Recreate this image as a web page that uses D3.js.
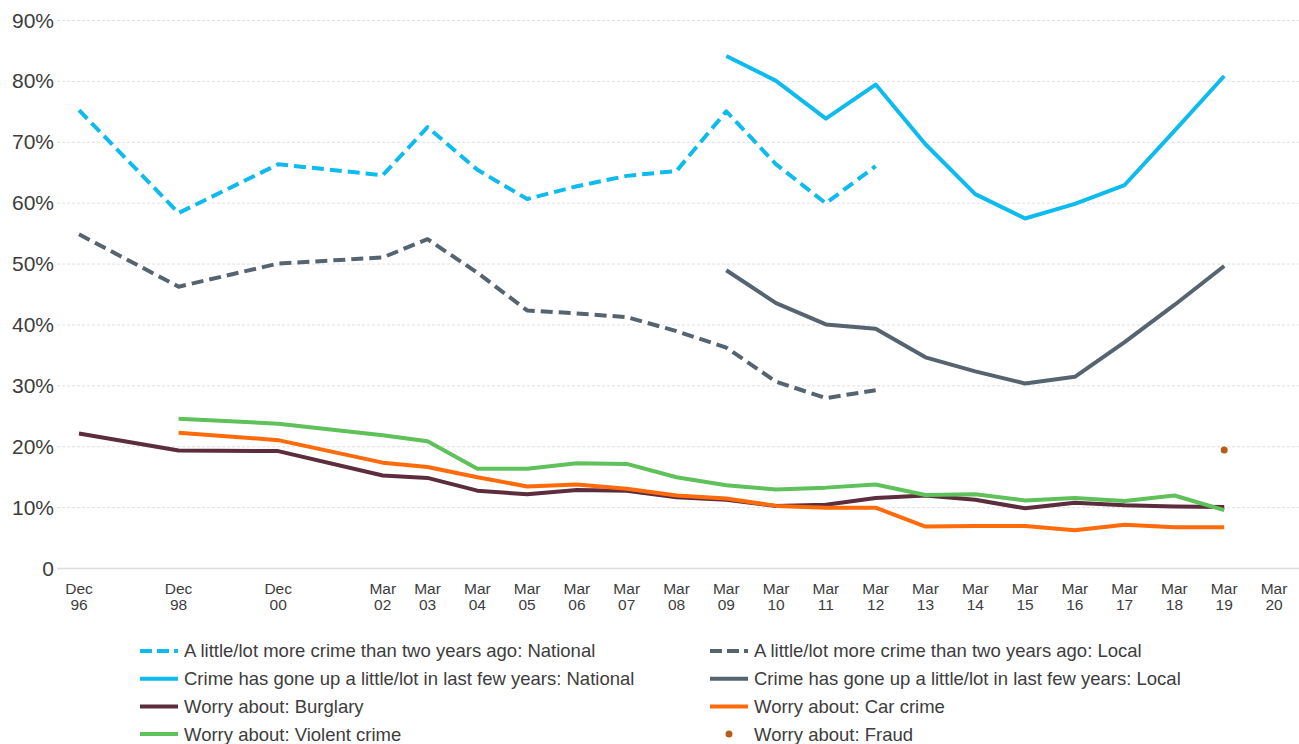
<!DOCTYPE html>
<html>
<head>
<meta charset="utf-8">
<script src="https://cdn.jsdelivr.net/npm/d3@7"></script>
<style>
  body { margin: 0; background: #fff; }
  text { font-family: "Liberation Sans", Arial, sans-serif; fill: #3d3d3d; }
</style>
</head>
<body>
<script>

var width = 1299;
var height = 744;

// survey periods (labels) and their position in time (years)
var periodLabels = ["Dec 96","Dec 98","Dec 00","Mar 02","Mar 03","Mar 04","Mar 05","Mar 06","Mar 07","Mar 08",
  "Mar 09","Mar 10","Mar 11","Mar 12","Mar 13","Mar 14","Mar 15","Mar 16","Mar 17","Mar 18","Mar 19","Mar 20"];
var periodYears = [1996, 1998, 2000, 2002.1, 2003, 2004, 2005, 2006, 2007, 2008,
  2009, 2010, 2011, 2012, 2013, 2014, 2015, 2016, 2017, 2018, 2019, 2020];

var yTicks = [0, 10, 20, 30, 40, 50, 60, 70, 80, 90];

var moreCrimeNational = [75.2, 58.3, 66.3, 64.5, 72.4, 65.4, 60.6, 62.7, 64.4, 65.2, 75.0, 66.3, 59.9, 66.0,
  null, null, null, null, null, null, null, null];
var moreCrimeLocal = [54.8, 46.2, 50.0, 51.0, 54.0, 48.5, 42.3, 41.8, 41.2, 38.9, 36.2, 30.6, 27.9, 29.2,
  null, null, null, null, null, null, null, null];
var goneUpNational = [null, null, null, null, null, null, null, null, null, null,
  84.1, 80.0, 73.8, 79.4, 69.6, 61.4, 57.4, 59.8, 62.9, 71.8, 80.8, null];
var goneUpLocal = [null, null, null, null, null, null, null, null, null, null,
  48.9, 43.5, 40.0, 39.3, 34.6, 32.3, 30.3, 31.4, 37.1, 43.2, 49.6, null];
var worryBurglary = [22.1, 19.3, 19.2, 15.2, 14.8, 12.7, 12.1, 12.8, 12.7, 11.6,
  11.2, 10.2, 10.4, 11.5, 11.9, 11.2, 9.8, 10.7, 10.3, 10.1, 10.0, null];
var worryCar = [null, 22.2, 21.0, 17.3, 16.6, 14.9, 13.4, 13.7, 13.0, 11.9,
  11.4, 10.2, 9.9, 9.9, 6.8, 6.9, 6.9, 6.2, 7.1, 6.7, 6.7, null];
var worryViolent = [null, 24.5, 23.7, 21.8, 20.8, 16.3, 16.3, 17.2, 17.1, 14.9,
  13.6, 12.9, 13.2, 13.7, 12.0, 12.1, 11.1, 11.5, 11.0, 11.9, 9.5, null];
var worryFraud = [null, null, null, null, null, null, null, null, null, null,
  null, null, null, null, null, null, null, null, null, null, 19.4, null];

var series = [
  {name: "A little/lot more crime than two years ago: National", values: moreCrimeNational, color: "#0dbbef", dash: "12,6"},
  {name: "A little/lot more crime than two years ago: Local", values: moreCrimeLocal, color: "#56646f", dash: "12,6"},
  {name: "Crime has gone up a little/lot in last few years: National", values: goneUpNational, color: "#0dbbef", dash: null},
  {name: "Crime has gone up a little/lot in last few years: Local", values: goneUpLocal, color: "#56646f", dash: null},
  {name: "Worry about: Burglary", values: worryBurglary, color: "#5c2d3d", dash: null},
  {name: "Worry about: Car crime", values: worryCar, color: "#ff6a0a", dash: null},
  {name: "Worry about: Violent crime", values: worryViolent, color: "#5ec15a", dash: null},
  {name: "Worry about: Fraud", values: worryFraud, color: "#b65e16", dash: null, dot: true}
];

var svg = d3.select("body")
      .append("svg")
      .attr("width", width)
      .attr("height", height);

var x = d3.scaleLinear().domain([1996, 2020]).range([79, 1274]);
var y = d3.scaleLinear().domain([0, 90]).range([568, 20]);

// gridlines
svg.append("g").selectAll("line")
  .data(yTicks)
  .enter().append("line")
    .attr("x1", 57)
    .attr("x2", width)
    .attr("y1", function(d) { return y(d) + 0.5; })
    .attr("y2", function(d) { return y(d) + 0.5; })
    .attr("stroke", function(d) { return d == 0 ? "#dcdcdc" : "#e0e0e0"; })
    .attr("stroke-width", function(d) { return d == 0 ? 1.5 : 1; })
    .attr("stroke-dasharray", function(d) { return d == 0 ? null : "3,2"; });

// y axis labels
svg.append("g").selectAll("text")
  .data(yTicks)
  .enter().append("text")
    .attr("x", 54)
    .attr("y", function(d) { return y(d); })
    .attr("dy", "0.36em")
    .attr("text-anchor", "end")
    .attr("font-size", "21px")
    .text(function(d) { return d == 0 ? "0" : d + "%"; });

// x axis labels (two lines)
var xl = svg.append("g").selectAll("text")
  .data(periodLabels)
  .enter().append("text")
    .attr("text-anchor", "middle")
    .attr("font-size", "15.5px")
    .attr("transform", function(d, i) { return "translate(" + x(periodYears[i]) + ",594)"; });

xl.append("tspan")
  .attr("x", 0)
  .text(function(d) { return d.split(" ")[0]; });
xl.append("tspan")
  .attr("x", 0)
  .attr("dy", 16)
  .text(function(d) { return d.split(" ")[1]; });

// lines
var line = d3.line()
  .defined(function(d) { return d != null; })
  .x(function(d, i) { return x(periodYears[i]); })
  .y(function(d) { return y(d); });

svg.append("g").selectAll("path")
  .data(series.filter(function(s) { return !s.dot; }))
  .enter().append("path")
    .attr("d", function(s) { return line(s.values); })
    .attr("fill", "none")
    .attr("stroke", function(s) { return s.color; })
    .attr("stroke-width", 4)
    .attr("stroke-linejoin", "round")
    .attr("stroke-dasharray", function(s) { return s.dash; });

// dot series
series.filter(function(s) { return s.dot; }).forEach(function(s) {
  svg.append("g").selectAll("circle")
    .data(s.values.map(function(v, i) { return {v: v, t: periodYears[i]}; })
      .filter(function(d) { return d.v != null; }))
    .enter().append("circle")
      .attr("cx", function(d) { return x(d.t); })
      .attr("cy", function(d) { return y(d.v); })
      .attr("r", 3.5)
      .attr("fill", s.color);
});

// legend, two columns
var legend = svg.append("g").selectAll("g")
  .data(series)
  .enter().append("g")
    .attr("transform", function(d, i) {
      var col = i % 2, row = Math.floor(i / 2);
      return "translate(" + (col == 0 ? 140 : 710) + "," + (651 + row * 27.7) + ")";
    });

legend.each(function(s) {
  var g = d3.select(this);
  if (s.dot) {
    g.append("circle").attr("cx", 19).attr("cy", 0).attr("r", 3.5).attr("fill", s.color);
  } else {
    g.append("line")
      .attr("x1", 0).attr("x2", 38)
      .attr("y1", 0).attr("y2", 0)
      .attr("stroke", s.color)
      .attr("stroke-width", 4)
      .attr("stroke-dasharray", s.dash ? "12,5" : null);
  }
  g.append("text")
    .attr("x", 44)
    .attr("dy", "0.35em")
    .attr("font-size", "18.5px")
    .text(s.name);
});

</script>
</body>
</html>
